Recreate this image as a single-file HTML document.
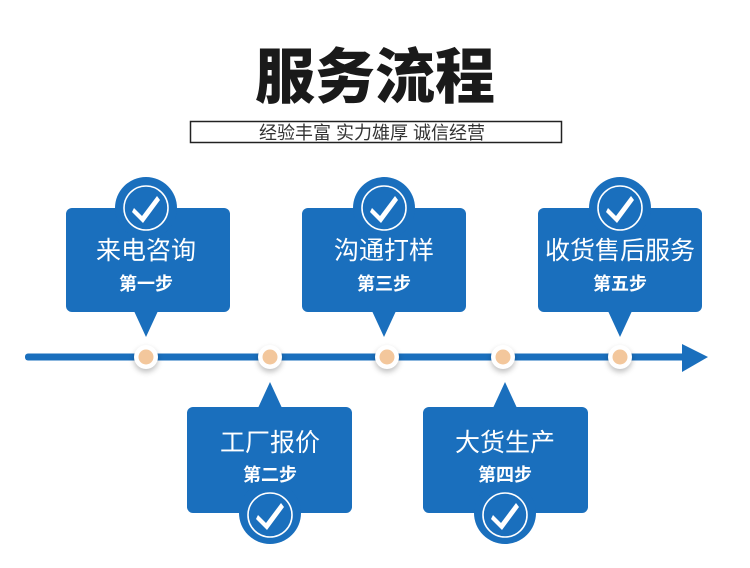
<!DOCTYPE html>
<html><head><meta charset="utf-8"><style>
body{margin:0;background:#fff;}
svg{display:block}
text{font-family:"Liberation Sans","Noto Sans CJK SC",sans-serif;}
</style></head><body>
<svg width="750" height="568" viewBox="0 0 750 568" xmlns="http://www.w3.org/2000/svg">
<defs>
<filter id="sh" x="-50%" y="-50%" width="200%" height="200%"><feGaussianBlur stdDeviation="3"/></filter>
<g id="chk">
<circle r="22" fill="none" stroke="#fff" stroke-width="1.6"/>
<path d="M-12,0 L-4,8 L11,-12 L14,-8 L-3,15 L-14,4 Z" fill="#fff"/>
</g>
</defs>
<text x="375" y="98" text-anchor="middle" font-size="60" font-weight="bold" fill="#1a1a1a" style="font-family:'Noto Sans CJK SC',sans-serif;font-weight:900">服务流程</text>
<rect x="190.5" y="121.5" width="371" height="21" fill="none" stroke="#222" stroke-width="1.5"/>
<text x="372" y="139" text-anchor="middle" font-size="18" fill="#333">经验丰富 实力雄厚 诚信经营</text>

<rect x="25" y="353.5" width="660" height="7" fill="#1a6fbd" rx="3"/>
<path d="M682,344 L708,357 L682,372 Z" fill="#1a6fbd"/>

<g fill="#1a6fbd">
<rect x="66" y="208" width="164" height="104" rx="6"/><circle cx="146" cy="208" r="31"/><path d="M134,311 L158,311 L146,337 Z"/>
<rect x="302" y="208" width="164" height="104" rx="6"/><circle cx="384" cy="208" r="31"/><path d="M372,311 L396,311 L384,337 Z"/>
<rect x="538" y="208" width="164" height="104" rx="6"/><circle cx="620" cy="208" r="31"/><path d="M608,311 L632,311 L620,337 Z"/>
<rect x="187" y="407" width="165" height="106" rx="6"/><circle cx="270" cy="513" r="31"/><path d="M258,408 L282,408 L270,382 Z"/>
<rect x="423" y="407" width="165" height="106" rx="6"/><circle cx="505" cy="513" r="31"/><path d="M493,408 L517,408 L505,382 Z"/>
</g>
<use href="#chk" x="146" y="208"/>
<use href="#chk" x="384" y="208"/>
<use href="#chk" x="620" y="208"/>
<use href="#chk" x="270" y="515"/>
<use href="#chk" x="505" y="515"/>

<g fill="#fff" text-anchor="middle">
<text x="146" y="259" font-size="25">来电咨询</text><text x="146" y="290" font-size="18" font-weight="bold">第一步</text>
<text x="384" y="259" font-size="25">沟通打样</text><text x="384" y="290" font-size="18" font-weight="bold">第三步</text>
<text x="620" y="259" font-size="25">收货售后服务</text><text x="620" y="290" font-size="18" font-weight="bold">第五步</text>
<text x="270" y="451" font-size="25">工厂报价</text><text x="270" y="481" font-size="18" font-weight="bold">第二步</text>
<text x="505" y="451" font-size="25">大货生产</text><text x="505" y="481" font-size="18" font-weight="bold">第四步</text>
</g>

<g>
<circle cx="146" cy="360" r="12" fill="#000" opacity="0.25" filter="url(#sh)"/>
<circle cx="270" cy="360" r="12" fill="#000" opacity="0.25" filter="url(#sh)"/>
<circle cx="387" cy="360" r="12" fill="#000" opacity="0.25" filter="url(#sh)"/>
<circle cx="503" cy="360" r="12" fill="#000" opacity="0.25" filter="url(#sh)"/>
<circle cx="620" cy="360" r="12" fill="#000" opacity="0.25" filter="url(#sh)"/>
</g>
<g fill="#fff">
<circle cx="146" cy="357" r="12"/><circle cx="270" cy="357" r="12"/><circle cx="387" cy="357" r="12"/><circle cx="503" cy="357" r="12"/><circle cx="620" cy="357" r="12"/>
</g>
<g fill="#f3c79c">
<circle cx="146" cy="357" r="7.5"/><circle cx="270" cy="357" r="7.5"/><circle cx="387" cy="357" r="7.5"/><circle cx="503" cy="357" r="7.5"/><circle cx="620" cy="357" r="7.5"/>
</g>
</svg>
</body></html>
